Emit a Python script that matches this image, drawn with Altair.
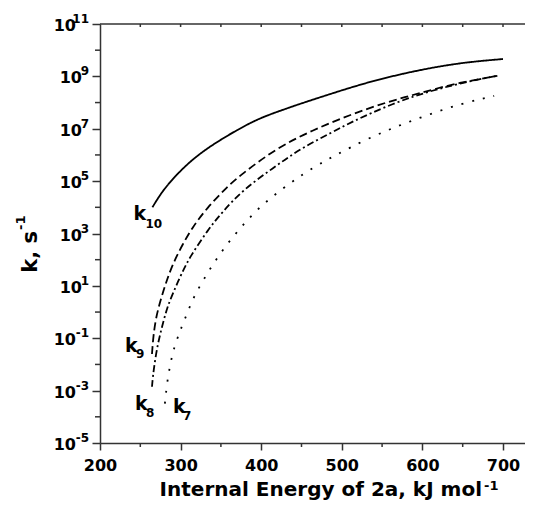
import altair as alt
import pandas as pd

# ---------------- data ----------------
series_names = ["k10", "k9", "k8", "k7"]

k10_energy = [265, 275, 287, 307, 328, 349, 370, 390, 407, 432, 448, 489, 531, 572, 613, 655, 700]
k10_rate = [1.0e4, 3.2e4, 9.5e4, 4.2e5, 1.4e6, 3.7e6, 8.9e6, 1.9e7, 3.2e7, 6.0e7, 8.9e7,
            2.3e8, 5.8e8, 1.2e9, 2.2e9, 3.5e9, 4.6e9]

k9_energy = [264.5, 266, 269.5, 276, 283, 291, 302, 315, 333, 355, 374, 420, 464, 510, 556, 597, 643, 693]
k9_rate = [2.5e-2, 0.11, 0.66, 3.5, 17, 76, 3.6e2, 1.8e3, 9.5e3, 5.0e4, 1.7e5, 1.9e6, 8.9e6,
           3.4e7, 1.05e8, 2.3e8, 5.6e8, 1.05e9]

k8_energy = [264.5, 265.5, 268, 272, 277, 283, 290.6, 301.7, 311.7, 334, 351, 377, 415, 448, 489,
             510, 563.5, 613, 659, 693]
k8_rate = [1.4e-3, 3.2e-3, 1.3e-2, 6.6e-2, 0.28, 1.4, 5.4, 32, 1.3e2, 1.4e3, 6.2e3, 4.6e4, 3.2e5,
           1.7e6, 7.6e6, 1.7e7, 9.5e7, 3.0e8, 6.6e8, 1.05e9]

k7_energy = [280.5, 283, 287, 292, 299, 305.5, 314, 322, 336.5, 352.6, 373.7, 398, 425.8, 452, 479,
             491.6, 531, 570, 609, 650, 689]
k7_rate = [3.2e-4, 1.8e-3, 1.0e-2, 4.5e-2, 0.18, 0.56, 2.6, 7.9, 45, 2.5e2, 1.6e3, 1.05e4, 5.0e4,
           1.9e5, 5.9e5, 9.5e5, 4.1e6, 1.3e7, 3.6e7, 9.5e7, 1.8e8]

x_major = [200, 300, 400, 500, 600, 700]
x_minor = [250, 350, 450, 550, 650]
x_top = [250, 300, 350, 400, 450, 500, 550, 600, 650, 700]
y_major = [1e-5, 1e-3, 1e-1, 1e1, 1e3, 1e5, 1e7, 1e9, 1e11]
y_major_exp = ["-5", "-3", "-1", "1", "3", "5", "7", "9", "11"]
y_minor = [1e-4, 1e-2, 1e0, 1e2, 1e4, 1e6, 1e8, 1e10]

x_title = "Internal Energy of 2a, kJ mol"
y_title = "k, s"

# ---------------- tables ----------------
series_data = {
    "k10": (k10_energy, k10_rate),
    "k9": (k9_energy, k9_rate),
    "k8": (k8_energy, k8_rate),
    "k7": (k7_energy, k7_rate),
}
rows = []
for name in series_names:
    xs, ys = series_data[name]
    for x, y in zip(xs, ys):
        rows.append({"series": name, "energy": x, "k": y})
df = pd.DataFrame(rows)

FONT = "DejaVu Sans"
AX = "#333333"
W, H = 425, 419

x_scale = alt.Scale(domain=[200, 727.3], nice=False, zero=False)
y_scale = alt.Scale(type="log", domain=[1e-5, 1e11], nice=False)

lines = alt.Chart(df).mark_line(
    color="black", strokeWidth=1.8, interpolate="basis", strokeCap="butt"
).encode(
    x=alt.X("energy:Q", scale=x_scale,
            axis=alt.Axis(values=x_major, tickSize=7, labelPadding=7, title=None, grid=False,
                          labelFlush=False,
                          labelFont=FONT, labelFontSize=16, labelFontWeight="bold",
                          labelColor="black", format="d")),
    y=alt.Y("k:Q", scale=y_scale,
            axis=alt.Axis(values=y_major, tickSize=8, labels=False, title=None, grid=False)),
    strokeDash=alt.StrokeDash("series:N",
                              scale=alt.Scale(domain=series_names,
                                              range=[[1, 0], [8, 4], [7, 3, 2, 3], [2, 9]]),
                              legend=None),
    detail="series:N",
)

# minor ticks and frame
y_minor_ticks = alt.Chart(pd.DataFrame({"k": y_minor})).mark_rule(
    color=AX, strokeWidth=1.5
).encode(y=alt.Y("k:Q", scale=y_scale), x=alt.value(-5), x2=alt.value(0))

x_minor_ticks = alt.Chart(pd.DataFrame({"energy": x_minor})).mark_rule(
    color=AX, strokeWidth=1.5
).encode(x=alt.X("energy:Q", scale=x_scale), y=alt.value(H), y2=alt.value(H + 4))

top_ticks = alt.Chart(pd.DataFrame({"energy": x_top})).mark_rule(
    color=AX, strokeWidth=1.5
).encode(x=alt.X("energy:Q", scale=x_scale), y=alt.value(0), y2=alt.value(3))

top_line = alt.Chart(pd.DataFrame({"energy": [200]})).mark_rule(
    color=AX, strokeWidth=1.5
).encode(x=alt.value(0), x2=alt.value(W), y=alt.value(0))

# y tick labels: "10" plus superscript exponent
ylab_df = pd.DataFrame({"k": y_major, "exp": y_major_exp})
ten = alt.Chart(ylab_df).transform_calculate(
    px="-12 - 6 * length(datum.exp)"
).mark_text(
    font=FONT, fontSize=16, fontWeight="bold", align="right", baseline="alphabetic", dy=7, color="black"
).encode(x=alt.X("px:Q", scale=None), y=alt.Y("k:Q", scale=y_scale), text=alt.value("10"))

sup = alt.Chart(ylab_df).mark_text(
    font=FONT, fontSize=12, fontWeight="bold", align="right", baseline="alphabetic", dy=-1, color="black"
).encode(x=alt.value(-11), y=alt.Y("k:Q", scale=y_scale), text="exp:N")

# axis titles
xt = alt.Chart(pd.DataFrame({"t": [x_title]})).mark_text(
    font=FONT, fontSize=20, fontWeight="bold", align="right", baseline="alphabetic", color="black"
).encode(x=alt.value(382), y=alt.value(472), text="t:N")
xt_sup = alt.Chart(pd.DataFrame({"t": ["-1"]})).mark_text(
    font=FONT, fontSize=13, fontWeight="bold", align="left", baseline="alphabetic", color="black"
).encode(x=alt.value(384), y=alt.value(466), text="t:N")

yt = alt.Chart(pd.DataFrame({"t": [y_title]})).mark_text(
    font=FONT, fontSize=21, fontWeight="bold", align="right", baseline="alphabetic", angle=270, color="black"
).encode(x=alt.value(-63), y=alt.value(207), text="t:N")
yt_sup = alt.Chart(pd.DataFrame({"t": ["-1"]})).mark_text(
    font=FONT, fontSize=13, fontWeight="bold", align="left", baseline="alphabetic", angle=270, color="black"
).encode(x=alt.value(-75), y=alt.value(206), text="t:N")

# curve labels anchored at each curve's first point
label_offsets = {
    "k10": ((-19, 13), "10", (-7, 21)),
    "k9": ((-27, -2), "9", (-16, 4)),
    "k8": ((-17, 23), "8", (-6, 30)),
    "k7": ((8, 9), "7", (18, 16)),
}
label_layers = []
for name in series_names:
    xs, ys = series_data[name]
    (kdx, kdy), sub, (sdx, sdy) = label_offsets[name]
    anchor = pd.DataFrame({"energy": [xs[0]], "k": [ys[0]]})
    label_layers.append(
        alt.Chart(anchor).mark_text(
            font=FONT, fontSize=19, fontWeight="bold", align="left", baseline="alphabetic",
            dx=kdx, dy=kdy, color="black"
        ).encode(x=alt.X("energy:Q", scale=x_scale), y=alt.Y("k:Q", scale=y_scale), text=alt.value("k"))
    )
    label_layers.append(
        alt.Chart(anchor).mark_text(
            font=FONT, fontSize=12, fontWeight="bold", align="left", baseline="alphabetic",
            dx=sdx, dy=sdy, color="black"
        ).encode(x=alt.X("energy:Q", scale=x_scale), y=alt.Y("k:Q", scale=y_scale), text=alt.value(sub))
    )

chart = alt.layer(
    lines, y_minor_ticks, x_minor_ticks, top_ticks, top_line, ten, sup, xt, xt_sup, yt, yt_sup,
    *label_layers
).properties(
    width=W, height=H,
    padding={"left": 92, "top": 16, "right": 0, "bottom": 59},
    autosize=alt.AutoSizeParams(type="none"),
).configure_view(stroke=None).configure_axis(
    domainColor=AX, domainWidth=1.5, tickColor=AX, tickWidth=1.5
)

chart.save("out.html", embed_options={"renderer": "svg", "actions": False})
